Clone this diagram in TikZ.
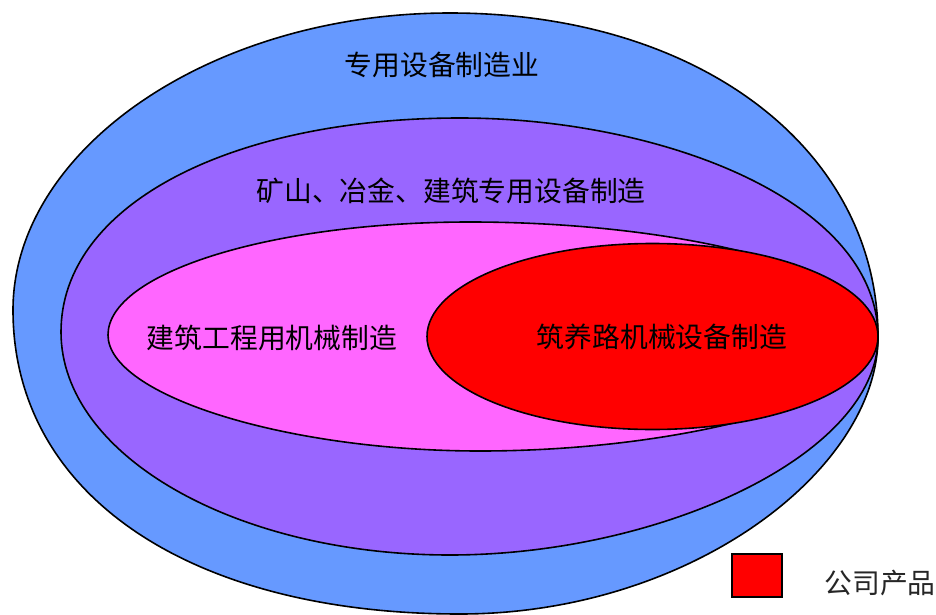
\documentclass[tikz,border=0pt]{standalone}
\usepackage{fontspec}
\newfontfamily\cjk{Noto Sans CJK SC}
\definecolor{outerblue}{RGB}{102,153,255}
\definecolor{midpurple}{RGB}{153,102,255}
\definecolor{innerpink}{RGB}{255,102,255}
\definecolor{prodred}{RGB}{255,0,0}
\begin{document}
\begin{tikzpicture}[x=1pt,y=-1pt,
  region/.style={draw=black,line width=1.6pt},
  lbl/.style={font=\cjk\fontsize{27.8}{32}\selectfont,text=black,inner sep=0pt}]
\useasboundingbox (0,0) rectangle (936,615);
% outer: special equipment manufacturing
\filldraw[region,fill=outerblue] (13,310) .. controls (13,150) and (210,13) .. (450,13)
  .. controls (700,13) and (878,150) .. (878,337)
  .. controls (878,470) and (690,614) .. (460,614)
  .. controls (190,614) and (13,495) .. cycle;
% purple
\filldraw[region,fill=midpurple] (61,332) .. controls (61,205) and (230,118) .. (460,118)
  .. controls (660,118) and (878,200) .. (878,337)
  .. controls (878,455) and (660,555) .. (450,555)
  .. controls (235,555) and (61,455) .. cycle;
% pink
\filldraw[region,fill=innerpink] (108,335) .. controls (108,273) and (270,222) .. (470,222)
  .. controls (680,222) and (878,270) .. (878,337)
  .. controls (878,400) and (680,451) .. (480,451)
  .. controls (285,451) and (108,395) .. cycle;
% red
\filldraw[region,fill=prodred] (652.5,336.5) ellipse [x radius=225.5pt, y radius=93pt];
% labels
\node[lbl] (t1) at (442,65) {专用设备制造业};
\node[lbl] (t2) at (451,191) {矿山、冶金、建筑专用设备制造};
\node[lbl] (t3) at (272,338) {建筑工程用机械制造};
\node[lbl] (t4) at (662,337) {筑养路机械设备制造};
% legend
\node[draw=black,line width=1.5pt,fill=prodred,minimum width=50pt,minimum height=43pt,inner sep=0pt] (legbox) at (757,575.5) {};
\node[lbl,text=black!85] (legtext) at (880,583) {公司产品};
\end{tikzpicture}
\end{document}
